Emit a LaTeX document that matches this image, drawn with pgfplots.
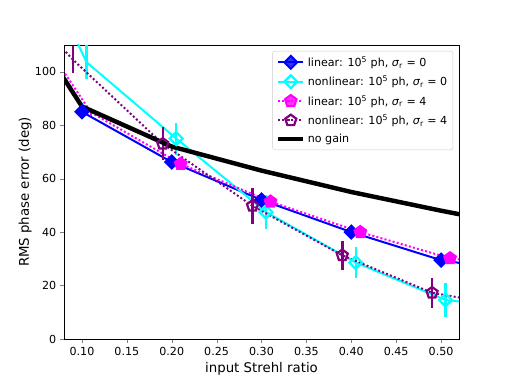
\documentclass[border=0pt]{standalone}
\usepackage{fontspec}
\setmainfont{DejaVu Sans}
\usepackage{pgfplots}
\pgfplotsset{compat=1.18}

\definecolor{mplblue}{HTML}{0000FF}
\definecolor{mplcyan}{HTML}{00FFFF}
\definecolor{mplmagenta}{HTML}{FF00FF}
\definecolor{mplpurple}{HTML}{800080}

\begin{document}
\begin{tikzpicture}
\begin{axis}[
    scale only axis,
    width=355.5pt, height=264.6pt,
    xmin=0.08, xmax=0.52,
    ymin=0, ymax=110,
    xtick={0.10,0.15,...,0.51},
    ytick={0,20,...,100},
    xticklabel style={/pgf/number format/.cd, fixed, fixed zerofill, precision=2},
    /pgf/number format/assume math mode=true,
    tick label style={font=\fontsize{10}{12}\selectfont},
    label style={font=\fontsize{12}{14}\selectfont},
    tick align=outside,
    tick pos=left,
    major tick length=3.5pt,
    axis line style={line width=0.7pt},
    xlabel={input Strehl ratio},
    ylabel={RMS phase error (deg)},
    xlabel style={at={(axis description cs:0.5,0)}, anchor=center, yshift=-27pt},
    ylabel style={at={(axis description cs:-0.0985,0.5)}, anchor=center},
    legend style={at={(rel axis cs:0.985,0.98)}, anchor=north east,
        font=\fontsize{10}{12}\selectfont, draw=black!20, rounded corners=2pt,
        fill=white, fill opacity=0.8, text opacity=1,
        row sep=3.2pt, inner sep=3pt},
    legend cell align=left,
    legend image code/.code={
        \draw[mark indices={2}] plot coordinates {(0cm,0cm) (0.4cm,0cm) (0.8cm,0cm)};
    },
    error bars/y dir=both, error bars/y explicit,
    error bars/error mark=none,
]
% linear, sigma_r = 0
\addplot[mplblue, line width=1.8pt, mark=square*, mark size=4.1pt,
    mark options={solid, rotate=45}, mark indices={1,...,5},
    error bars/error bar style={line width=2pt}]
    table[y error=e] {
    x    y     e
    0.10 85.0  1.5
    0.20 66.2  1.5
    0.30 52.0  1.5
    0.40 40.0  1.5
    0.50 29.5  1.5
    0.60 24.5  0
};
% nonlinear, sigma_r = 0
\addplot[mplcyan, line width=1.8pt, mark=square, mark size=4.1pt,
    mark options={solid, rotate=45, line width=2pt}, mark indices={2,...,6},
    error bars/error bar style={line width=2.2pt}]
    table[y error=e] {
    x     y     e
    0.05  143.0 0
    0.105 103.6 6.5
    0.205 75.0  6.0
    0.305 47.5  6.5
    0.405 28.6  5.8
    0.505 14.6  6.5
    0.60  11.0  0
};
% linear, sigma_r = 4
\addplot[mplmagenta, line width=1.8pt, dotted, mark=pentagon*, mark size=5.5pt,
    mark options={solid}, mark indices={2,...,6},
    error bars/error bar style={line width=2pt, solid}]
    table[y error=e] {
    x     y     e
    0.05  115.0 0
    0.11  84.8  1.5
    0.21  65.5  1.5
    0.31  51.4  1.5
    0.41  40.0  1.5
    0.51  30.2  1.5
    0.60  26.0  0
};
% nonlinear, sigma_r = 4
\addplot[mplpurple, line width=1.8pt, dotted, mark=pentagon, mark size=5.2pt,
    mark options={solid, line width=2pt}, mark indices={2,...,6},
    error bars/error bar style={line width=2.2pt, solid}]
    table[y error=e] {
    x     y     e
    0.05  119.0 0
    0.09  104.5 5.0
    0.19  73.0  6.2
    0.29  49.8  6.8
    0.39  31.3  5.3
    0.49  17.3  5.6
    0.60  10.8  0
};
% no gain
\addplot[black, line width=4pt, no marks, forget plot] coordinates {
    (0.05,113) (0.10,87) (0.20,72) (0.30,63) (0.40,55) (0.50,48) (0.60,41.5)
};
\addlegendimage{black, line width=4pt, no marks}
\legend{
    {linear: 10\textsuperscript{5} ph, \textit{σ}\textsubscript{r} = 0},
    {nonlinear: 10\textsuperscript{5} ph, \textit{σ}\textsubscript{r} = 0},
    {linear: 10\textsuperscript{5} ph, \textit{σ}\textsubscript{r} = 4},
    {nonlinear: 10\textsuperscript{5} ph, \textit{σ}\textsubscript{r} = 4},
    {no gain}}
\end{axis}
\path (current axis.south west) ++(-57.6pt,-38.7pt)
    rectangle ([xshift=45.9pt, yshift=40.5pt]current axis.north east);
\end{tikzpicture}
\end{document}
